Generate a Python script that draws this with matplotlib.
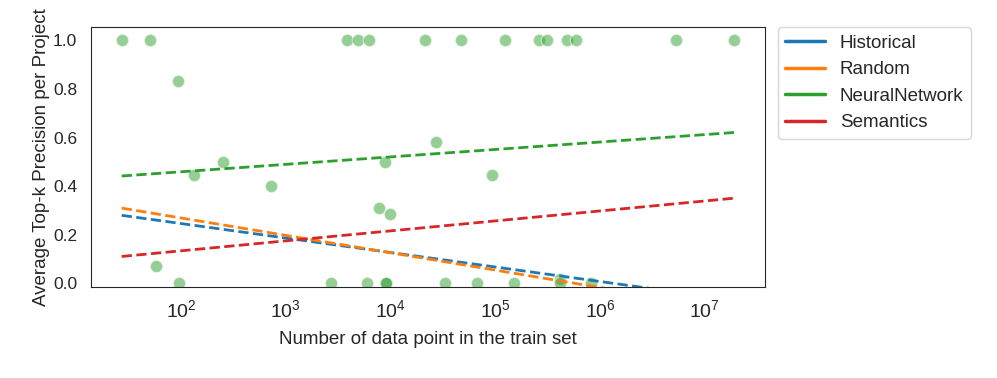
import numpy as np
import matplotlib.pyplot as plt
import seaborn as sns
from matplotlib.lines import Line2D

sns.set_style('white')
plt.rcParams['font.family'] = ['Liberation Sans', 'DejaVu Sans']

# train set size per project and NeuralNetwork precision
n_train = [27, 50, 93, 57, 95, 132, 249, 726, 2710, 3820, 4910, 6200, 5890,
           7710, 9970, 8930, 9080, 9080, 21500, 27200, 46800, 124000, 262000,
           312000, 484000, 590000, 5350000, 19200000, 93100, 33400, 67000,
           152000, 412000, 412000, 820000]
precision = [1.0, 1.0, 0.833, 0.07, 0.0, 0.444, 0.5, 0.4, 0.0, 1.0, 1.0, 1.0,
             0.0, 0.31, 0.285, 0.5, 0.0, 0.0, 1.0, 0.583, 1.0, 1.0, 1.0,
             1.0, 1.0, 1.0, 1.0, 1.0, 0.444, 0.0, 0.0, 0.0, 0.02, 0.0, 0.0]

# linear fits of precision against log10(train size)
methods = ['Historical', 'Random', 'NeuralNetwork', 'Semantics']
slopes = [-0.0596, -0.0715, 0.0306, 0.041]
intercepts = [0.3653, 0.412, 0.398, 0.052]
colors = ['#1f77b4', '#ff7f0e', '#2ca02c', '#d62728']

fig = plt.figure(figsize=(9.97, 3.78), dpi=100)
ax = fig.add_axes([0.0913, 0.242, 0.6760, 0.6866])

ax.scatter(n_train, precision, s=80, color='#2ca02c', alpha=0.5,
           edgecolor='white', linewidth=1, zorder=2)

xs = np.logspace(np.log10(min(n_train)), np.log10(max(n_train)), 100)
for m, a, b, c in zip(methods, slopes, intercepts, colors):
    ax.plot(xs, b + a * np.log10(xs), '--', color=c, lw=2, zorder=3)

ax.set_xscale('log')
ax.set_ylim(-0.013, 1.055)
ax.set_xlabel('Number of data point in the train set', fontsize=13.5, labelpad=7)
ax.set_ylabel('Average Top-k Precision per Project', fontsize=13.5, labelpad=2)
ax.tick_params(axis='y', labelsize=12.5, length=0, pad=10)
ax.tick_params(axis='x', labelsize=14, length=0, pad=9)

handles = [Line2D([], [], color=c, lw=2.5) for c in colors]
ax.legend(handles, methods, loc='upper left', bbox_to_anchor=(1.019, 1.0),
          borderaxespad=0, fontsize=13.5, labelspacing=0.5,
          handlelength=2.1, frameon=True)

fig.savefig('out.png', dpi=100)
